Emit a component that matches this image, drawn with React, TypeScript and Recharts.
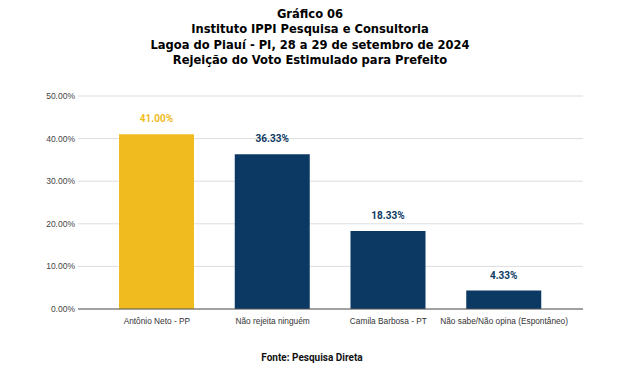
import React from 'react';
import { BarChart, Bar, XAxis, YAxis, CartesianGrid, LabelList, Cell } from 'recharts';

const categories = ['Antônio Neto - PP', 'Não rejeita ninguém', 'Camila Barbosa - PT', 'Não sabe/Não opina (Espontâneo)'];
const values = [41.0, 36.33, 18.33, 4.33];
const barColors = ['#F0BB1E', '#0C3964', '#0C3964', '#0C3964'];
const yTicks = [0, 10, 20, 30, 40, 50];
const titleLines = [
  'Gráfico 06',
  'Instituto IPPI Pesquisa e Consultoria',
  'Lagoa do Piauí - PI, 28 a 29 de setembro de 2024',
  'Rejeição do Voto Estimulado para Prefeito',
];
const sourceText = 'Fonte: Pesquisa Direta';

const data = categories.map((c, i) => ({ name: c, value: values[i], color: barColors[i] }));

const renderLabel = (props: any) => {
  const { x, y, width, value, index } = props;
  return (
    <text
      x={x + width / 2}
      y={y - 12}
      textAnchor="middle"
      fontFamily="Roboto, 'Liberation Sans', Arial, sans-serif"
      fontWeight="bold"
      fontSize={10}
      fill={barColors[index]}
    >
      {Number(value).toFixed(2)}%
    </text>
  );
};

const tickFont = "'Liberation Sans', Arial, sans-serif";

export default function App() {
  return (
    <div style={{ position: 'absolute', left: 0, top: 0, width: 626, height: 375, background: '#fff' }}>
      <div
        style={{
          position: 'absolute',
          left: 0,
          top: 6,
          width: 620,
          textAlign: 'center',
          fontFamily: "'DejaVu Sans Condensed', 'DejaVu Sans', Verdana, sans-serif",
          fontWeight: 'bold',
          fontSize: 12.8,
          lineHeight: '15.3px',
          color: '#000',
        }}
      >
        {titleLines.map((t) => (
          <div key={t}>{t}</div>
        ))}
      </div>
      <div style={{ position: 'absolute', left: 0, top: 0 }}>
        <BarChart
          width={626}
          height={375}
          data={data}
          margin={{ top: 96, right: 43, bottom: 36, left: 28 }}
        >
          <CartesianGrid vertical={false} stroke="#dddddd" />
          <XAxis
            dataKey="name"
            height={30}
            padding={{ left: 21, right: 21 }}
            tickLine={false}
            axisLine={{ stroke: '#555555' }}
            interval={0}
            tick={{ fontSize: 8.3, fill: '#333333', fontFamily: tickFont }}
            tickMargin={3}
          />
          <YAxis
            width={50}
            domain={[0, 50]}
            ticks={yTicks}
            tickFormatter={(v: number) => v.toFixed(2) + '%'}
            axisLine={false}
            tickLine={false}
            tickSize={1}
            tickMargin={2}
            tick={{ fontSize: 8.5, fill: '#444444', fontFamily: tickFont }}
          />
          <Bar dataKey="value" isAnimationActive={false} barSize={75}>
            {data.map((d, i) => (
              <Cell key={i} fill={d.color} />
            ))}
            <LabelList dataKey="value" content={renderLabel} />
          </Bar>
        </BarChart>
      </div>
      <div
        style={{
          position: 'absolute',
          left: 0,
          top: 352,
          width: 624,
          textAlign: 'center',
          fontFamily: "Roboto, 'Liberation Sans', Arial, sans-serif",
          fontWeight: 'bold',
          fontSize: 10,
          color: '#111',
        }}
      >
        {sourceText}
      </div>
    </div>
  );
}
